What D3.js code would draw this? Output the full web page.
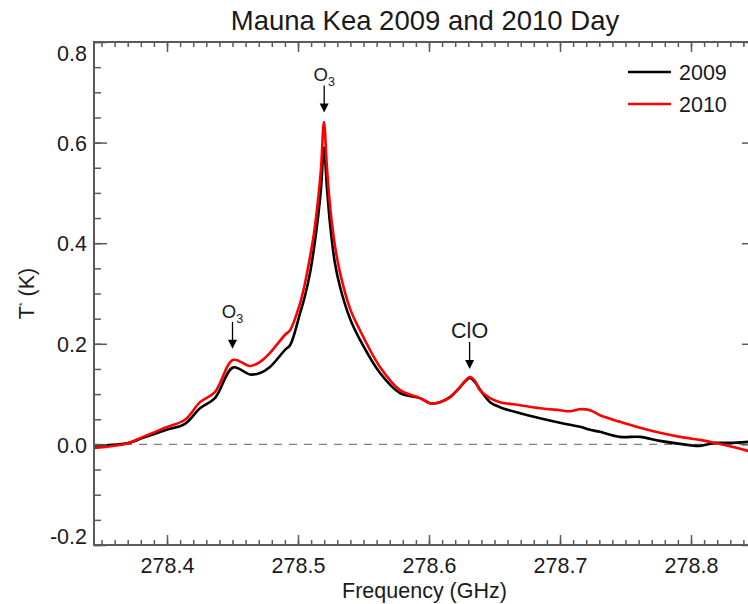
<!DOCTYPE html>
<html>
<head>
<meta charset="utf-8">
<script src="https://cdn.jsdelivr.net/npm/d3@7"></script>
<style>
  body { margin: 0; background: #fff; }
  svg { display: block; font-family: "Liberation Sans", Arial, Helvetica, sans-serif; }
</style>
</head>
<body>
<svg width="748" height="604"></svg>
<script>
// frequency grid (GHz), shared by both spectra
let freq = [278.3443, 278.3695, 278.3817, 278.3985, 278.4137, 278.4252, 278.4366, 278.4504, 278.4634, 278.4710,
    278.4786, 278.4901, 278.4939, 278.5015, 278.5053, 278.5092, 278.5122, 278.5153, 278.5176, 278.5198,
    278.5221, 278.5244, 278.5282, 278.5321, 278.5397, 278.5473, 278.5626, 278.5779, 278.5931, 278.6008,
    278.6084, 278.6160, 278.6237, 278.6275, 278.6313, 278.6351, 278.6389, 278.6466, 278.6542, 278.6695,
    278.6847, 278.7000, 278.7076, 278.7153, 278.7229, 278.7305, 278.7458, 278.7611, 278.7763, 278.7916,
    278.8069, 278.8183, 278.8321, 278.8435, 278.8490];

// T* (K) for 2009 day
let t2009 = [-0.003, 0.002, 0.013, 0.028, 0.041, 0.072, 0.092, 0.153, 0.139, 0.142,
    0.154, 0.188, 0.197, 0.260, 0.295, 0.341, 0.390, 0.452, 0.510, 0.590,
    0.510, 0.440, 0.360, 0.313, 0.250, 0.208, 0.142, 0.102, 0.092, 0.082,
    0.084, 0.094, 0.114, 0.125, 0.132, 0.124, 0.109, 0.084, 0.074, 0.062,
    0.052, 0.043, 0.039, 0.035, 0.029, 0.025, 0.015, 0.015, 0.007, 0.001,
    -0.003, 0.003, 0.003, 0.005, 0.005];

// T* (K) for 2010 day
let t2010 = [-0.007, 0.002, 0.015, 0.033, 0.049, 0.084, 0.104, 0.168, 0.156, 0.164,
    0.182, 0.218, 0.227, 0.280, 0.320, 0.373, 0.420, 0.486, 0.550, 0.641,
    0.550, 0.475, 0.395, 0.341, 0.270, 0.227, 0.154, 0.108, 0.092, 0.082,
    0.084, 0.094, 0.114, 0.126, 0.134, 0.126, 0.108, 0.092, 0.084, 0.078,
    0.072, 0.068, 0.066, 0.070, 0.068, 0.058, 0.045, 0.033, 0.023, 0.015,
    0.009, 0.003, -0.005, -0.013, -0.016];

let seriesNames = ["2009", "2010"];
let seriesColors = ["#000000", "#ff0000"];

let xTicks = [278.4, 278.5, 278.6, 278.7, 278.8];
let xMinorTicks = d3.range(0, 50).map(i => +(278.35 + i * 0.01).toFixed(2));
let yTicks = [-0.2, 0.0, 0.2, 0.4, 0.6, 0.8];
let yMinorTicks = d3.range(0, 21).map(i => +(-0.2 + i * 0.05).toFixed(2));

// line annotations: label, subscript, frequency, arrow tip value
let lineNames = ["O", "O", "ClO"];
let lineSubs = ["3", "3", ""];
let lineFreqs = [278.450, 278.520, 278.631];
let lineTips = [0.190, 0.660, 0.150];

let svg = d3.select("svg"),
    margin = { top: 42, right: 0, bottom: 59, left: 94 },
    plotRight = 755,
    width = plotRight - margin.left,
    height = svg.attr("height") - margin.top - margin.bottom,
    g = svg.append("g").attr("transform", "translate(" + margin.left + "," + margin.top + ")");

let axisColor = "#5a5a5a";
let fmt = d => d.toFixed(1); // keeps the plain hyphen in -0.2

let x = d3.scaleLinear()
    .domain([278.34427, 278.4 + (plotRight - 167) / 1310])
    .range([0, width]);
let y = d3.scaleLinear()
    .domain([-0.2, 0.8])
    .range([height, 0]);

g.append("clipPath").attr("id", "clip")
    .append("rect").attr("width", width).attr("height", height);

// zero line
g.append("line")
    .attr("x1", 0).attr("x2", width)
    .attr("y1", y(0)).attr("y2", y(0))
    .attr("stroke", "#808080")
    .attr("stroke-width", 1.2)
    .attr("stroke-dasharray", "8,7");

// spectra
let line = d3.line()
    .curve(d3.curveCatmullRom.alpha(0.5))
    .x(d => x(d[0]))
    .y(d => y(d[1]));

[t2009, t2010].forEach(function (vals, i) {
    g.append("path")
        .datum(freq.map((f, j) => [f, vals[j]]))
        .attr("clip-path", "url(#clip)")
        .attr("fill", "none")
        .attr("stroke", seriesColors[i])
        .attr("stroke-width", 2.6)
        .attr("stroke-linejoin", "round")
        .attr("d", line);
});

// axes, ticks pointing inward
function styleAxis(sel) {
    sel.select(".domain").remove();
    sel.selectAll(".tick line").attr("stroke", axisColor).attr("stroke-width", 1.5);
    sel.selectAll(".tick text")
        .attr("fill", "#1a1a1a")
        .style("font-size", "21.5px")
        .style("font-family", "'Liberation Sans', Arial, Helvetica, sans-serif");
}

g.append("g").attr("transform", "translate(0," + height + ")")
    .call(d3.axisBottom(x).tickValues(xMinorTicks).tickSize(-5).tickFormat(""))
    .call(styleAxis);
g.append("g").attr("transform", "translate(0," + height + ")")
    .call(d3.axisBottom(x).tickValues(xTicks).tickSize(-10).tickPadding(13).tickFormat(fmt))
    .call(styleAxis);
g.append("g")
    .call(d3.axisTop(x).tickValues(xMinorTicks).tickSize(-5).tickFormat(""))
    .call(styleAxis);
g.append("g")
    .call(d3.axisTop(x).tickValues(xTicks).tickSize(-10).tickFormat(""))
    .call(styleAxis);

g.append("g")
    .call(d3.axisLeft(y).tickValues(yMinorTicks).tickSize(-7).tickFormat(""))
    .call(styleAxis);
let yAxisG = g.append("g")
    .call(d3.axisLeft(y).tickValues(yTicks).tickSize(-13).tickPadding(7).tickFormat(fmt))
    .call(styleAxis);
// end labels are nudged inside the frame
yAxisG.selectAll(".tick text")
    .attr("dy", d => d === 0.8 ? "0.85em" : (d === -0.2 ? "-0.05em" : "0.36em"));
g.append("g").attr("transform", "translate(" + width + ",0)")
    .call(d3.axisRight(y).tickValues(yMinorTicks).tickSize(-7).tickFormat(""))
    .call(styleAxis);
g.append("g").attr("transform", "translate(" + width + ",0)")
    .call(d3.axisRight(y).tickValues(yTicks).tickSize(-13).tickFormat(""))
    .call(styleAxis);

// frame
g.append("rect")
    .attr("width", width).attr("height", height)
    .attr("fill", "none")
    .attr("stroke", axisColor)
    .attr("stroke-width", 2);

// title
svg.append("text")
    .attr("x", 425)
    .attr("y", 30)
    .attr("text-anchor", "middle")
    .attr("fill", "#1a1a1a")
    .style("font-size", "27.5px")
    .text("Mauna Kea 2009 and 2010 Day");

// x label
svg.append("text")
    .attr("x", margin.left + width / 2)
    .attr("y", 598)
    .attr("text-anchor", "middle")
    .attr("fill", "#1a1a1a")
    .style("font-size", "21.5px")
    .text("Frequency (GHz)");

// y label
let yLabel = svg.append("text")
    .attr("transform", "translate(34," + (margin.top + height / 2) + ") rotate(-90)")
    .attr("text-anchor", "middle")
    .attr("fill", "#1a1a1a")
    .style("font-size", "21.5px");
yLabel.append("tspan").text("T");
yLabel.append("tspan").attr("dy", -9).style("font-size", "9px").text("*");
yLabel.append("tspan").attr("dy", 9).text(" (K)");

// annotations with arrows
lineNames.forEach(function (name, i) {
    let ax = x(lineFreqs[i]),
        tip = y(lineTips[i]),
        big = lineSubs[i] === "";
    let a = g.append("g");
    a.append("line")
        .attr("x1", ax).attr("x2", ax)
        .attr("y1", tip - 27).attr("y2", tip - 6)
        .attr("stroke", "#000").attr("stroke-width", 1.3);
    a.append("path")
        .attr("d", "M" + (ax - 4.5) + "," + (tip - 9) + "L" + (ax + 4.5) + "," + (tip - 9) + "L" + ax + "," + tip + "Z")
        .attr("fill", "#000");
    let t = a.append("text")
        .attr("x", ax)
        .attr("y", tip - 31)
        .attr("text-anchor", "middle")
        .attr("fill", "#1a1a1a")
        .style("font-size", big ? "21.5px" : "18.5px");
    t.append("tspan").text(name);
    if (!big) {
        t.append("tspan").attr("dy", 5).style("font-size", "12.5px").text(lineSubs[i]);
    }
});

// legend
let legend = svg.append("g")
    .selectAll("g")
    .data(seriesNames)
    .enter().append("g")
    .attr("transform", (d, i) => "translate(628," + (72 + i * 32) + ")");
legend.append("line")
    .attr("x1", 0).attr("x2", 43)
    .attr("stroke", (d, i) => seriesColors[i])
    .attr("stroke-width", 2.6);
legend.append("text")
    .attr("x", 51)
    .attr("y", 7.5)
    .attr("fill", "#1a1a1a")
    .style("font-size", "21.5px")
    .text(d => d);
</script>
</body>
</html>
